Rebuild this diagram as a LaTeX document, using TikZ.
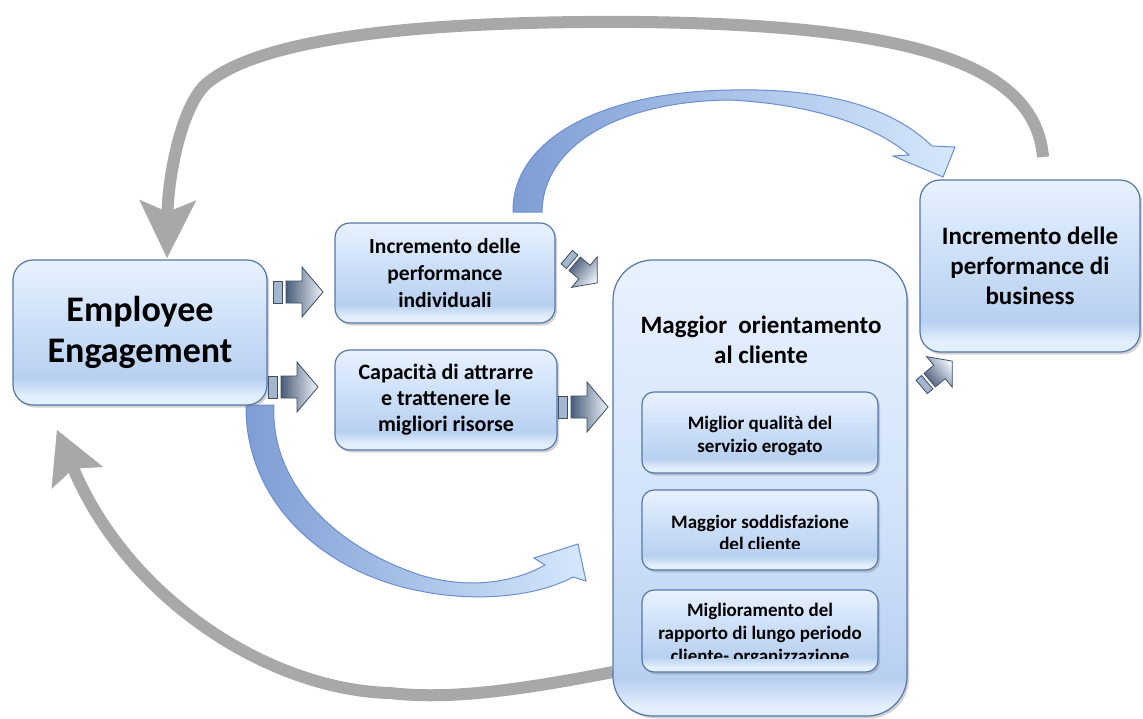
\documentclass[tikz,border=0pt]{standalone}
\usepackage{fontspec}
\setmainfont{Carlito}
\usetikzlibrary{arrows.meta,shadows,calc}

\definecolor{boxline}{HTML}{5577AA}
\definecolor{bxtop}{HTML}{E8F2FE}
\definecolor{bxmid}{HTML}{CFE1F9}
\definecolor{bxlow}{HTML}{B8D0F0}
\definecolor{bxbot}{HTML}{E4EFFD}
\definecolor{greyarr}{HTML}{A8A8A8}
\definecolor{bluedark}{HTML}{7E9DD4}
\definecolor{bluelight}{HTML}{D6E8FD}
\definecolor{blueedge}{HTML}{6A8ED0}
\definecolor{metaldark}{HTML}{4A5D78}
\definecolor{metalmid}{HTML}{B4C3D6}
\definecolor{metallight}{HTML}{EEF3FA}
\definecolor{metaledge}{HTML}{3D4E66}
\definecolor{metalbar}{HTML}{A3B6CE}

% glossy box fills: light band at the bottom, darker lower part, pale top
\pgfdeclareverticalshading{boxfill}{100bp}{color(0bp)=(bxbot); color(25bp)=(bxbot); color(28bp)=(bxbot); color(34bp)=(bxlow); color(55bp)=(bxmid); color(75bp)=(bxtop); color(100bp)=(bxtop)}
\pgfdeclareverticalshading{bigfill}{100bp}{color(0bp)=(bxbot); color(25bp)=(bxbot); color(26bp)=(bxbot); color(29bp)=(bxlow); color(45bp)=(bxmid); color(75bp)=(bxtop); color(100bp)=(bxtop)}

\tikzset{
  box/.style={draw=boxline, line width=1.2pt, shading=boxfill, rounded corners=#1,
    drop shadow={shadow xshift=2pt, shadow yshift=-2.5pt, opacity=.35},
    align=center, inner sep=0pt},
  box/.default=15pt,
  label/.style={align=center, inner sep=0pt},
  greyconn/.style={draw=greyarr, line width=12pt},
  bluecurve/.style={draw=blueedge, line width=1pt, left color=bluedark, right color=bluelight},
  pics/blockarrow/.style={code={
    \path[draw=metaledge, line width=.8pt, fill=metalbar] (-25,-11) rectangle (-16,11);
    \path[draw=metaledge, line width=.8pt, left color=metaldark, middle color=metalmid,
          right color=metallight, shading angle=#1]
      (-12,-11) -- (4,-11) -- (4,-25) -- (25,0) -- (4,25) -- (4,11) -- (-12,11) -- cycle;
  }},
}

\begin{document}
\begin{tikzpicture}[x=1pt,y=-1pt]
\useasboundingbox (0,0) rectangle (1143,718);
\fill[white] (0,0) rectangle (1143,718);

% ---- feedback loops (grey), drawn below the boxes
\coordinate (gt-a) at (1043,157);
\coordinate (gt-b) at (167,258);
\draw[greyconn, -{Stealth[length=58pt,width=57pt,inset=12pt,line width=0.5pt]}]
  (gt-a) .. controls (1035,60) and (900,25) .. (640,22)
         .. controls (380,20) and (250,45) .. (205,85)
         .. controls (180,110) and (168,180) .. (gt-b);

\coordinate (gb-a) at (613,672);
\coordinate (gb-b) at (57,430);
\draw[greyconn, -{Stealth[length=52pt,width=56pt,inset=10pt,line width=0.5pt]}]
  (gb-a) .. controls (520,690) and (450,700) .. (390,693)
         .. controls (272,690) and (130,602) .. (gb-b);

% ---- curved blue arrows
\path[bluecurve]
  (513,212) .. controls (512,140) and (600,92) .. (730,90)
            .. controls (820,88) and (890,105) .. (932,146)
  -- (955,147) -- (943,177) -- (893,156) -- (909,155)
            .. controls (875,125) and (810,104) .. (730,100)
            .. controls (620,101) and (543,145) .. (542,212) -- cycle;

\path[bluecurve]
  (246,405) -- (274,405)
            .. controls (270,480) and (330,545) .. (420,575)
            .. controls (470,590) and (515,582) .. (545,565)
  -- (534,558) -- (578,544) -- (586,581) -- (573,577)
            .. controls (540,595) and (480,604) .. (415,590)
            .. controls (320,570) and (245,500) .. (246,405) -- cycle;

% ---- boxes
\node[box=20pt, minimum width=254pt, minimum height=145pt,
      font=\bfseries\fontsize{36}{41}\selectfont] (ee) at (140,332.5) {Employee\\Engagement};
\node[box=15pt, minimum width=220pt, minimum height=100pt,
      font=\bfseries\fontsize{21.5}{27}\selectfont] (ind) at (445,273) {Incremento delle\\performance\\individuali};
\node[box=15pt, minimum width=222pt, minimum height=100pt,
      font=\bfseries\fontsize{22}{26}\selectfont] (cap) at (446,400) {Capacità di attrarre\\e trattenere le\\migliori risorse};
\node[box=40pt, shading=bigfill, minimum width=294pt, minimum height=456pt] (cli) at (760,488) {};
\node[label, font=\bfseries\fontsize{25}{30}\selectfont] (cli-t) at (761,340) {Maggior\ \ orientamento\\al cliente};
\node[box=20pt, minimum width=220pt, minimum height=172pt,
      font=\bfseries\fontsize{25}{30}\selectfont] (bus) at (1030,266) {Incremento delle\\performance di\\business};

% inner boxes of the customer column
\node[box=12pt, minimum width=236pt, minimum height=81pt] (q1) at (760,432.5) {};
\node[box=12pt, minimum width=236pt, minimum height=80pt] (q2) at (760,530) {};
\node[box=12pt, minimum width=236pt, minimum height=82pt] (q3) at (760,631) {};

\node[label, font=\bfseries\fontsize{19}{23}\selectfont] (q1-t) at ($(q1.center)+(0,3)$) {Miglior qualità del\\servizio erogato};
\begin{scope}
  \clip (q2.north west) rectangle ($(q2.south east)+(0,-22)$);
  \node[label, font=\bfseries\fontsize{19}{22}\selectfont] (q2-t) at ($(q2.center)+(0,3)$) {Maggior soddisfazione\\del cliente};
\end{scope}
\begin{scope}
  \clip (q3.north west) rectangle ($(q3.south east)+(0,-14)$);
  \node[label, font=\bfseries\fontsize{19}{23}\selectfont] (q3-t) at ($(q3.center)+(0,3)$) {Miglioramento del\\rapporto di lungo periodo\\cliente- organizzazione};
\end{scope}

% ---- striped block arrows
\pic at (298,292) {blockarrow=90};
\pic at (293,387) {blockarrow=90};
\pic at (583,407) {blockarrow=90};
\pic[rotate=-40, scale=.8] at (582,270) {blockarrow=50};
\pic[rotate=40, scale=.8] at (937,374) {blockarrow=130};
\end{tikzpicture}
\end{document}
